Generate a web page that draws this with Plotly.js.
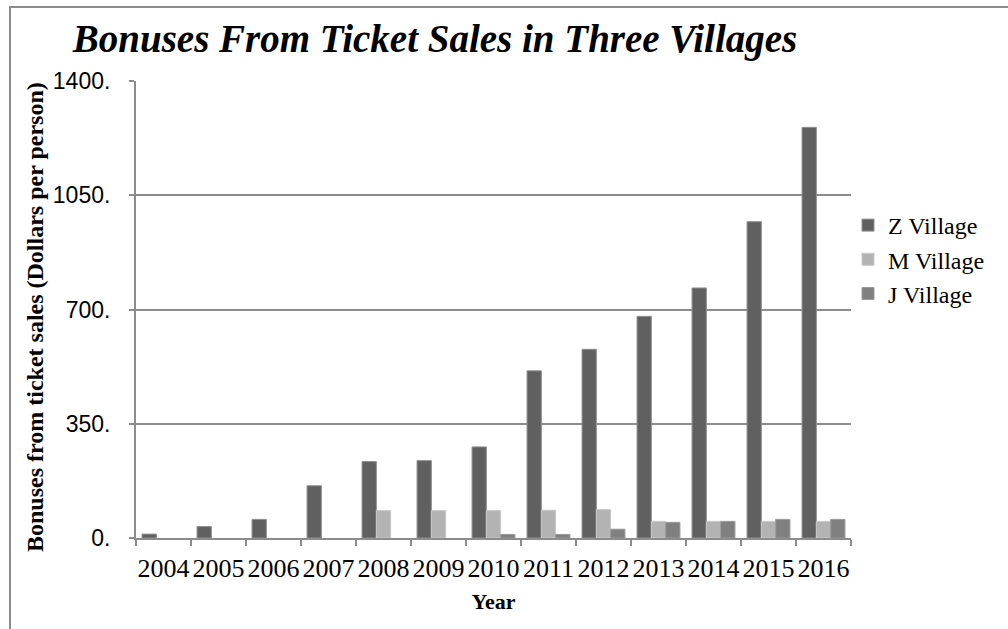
<!DOCTYPE html>
<html>
<head>
<meta charset="utf-8">
<script src="https://cdn.plot.ly/plotly-3.0.1.min.js"></script>
<style>
html,body{margin:0;padding:0;background:#fff;}
#chart{width:1008px;height:629px;}
</style>
</head>
<body>
<div id="chart"></div>
<script>
const years = ['2004','2005','2006','2007','2008','2009','2010','2011','2012','2013','2014','2015','2016'];
const zVillage = [12, 35, 57, 160, 234, 237, 279, 512, 578, 679, 766, 969, 1258];
const mVillage = [null, null, null, null, 84, 84, 84, 85, 87, 51, 51, 51, 51];
const jVillage = [null, null, null, null, null, null, 11, 11, 27, 48, 51, 57, 57];
const yTickVals = [0, 350, 700, 1050, 1400];
const yTickText = ['0.', '350.', '700.', '1050.', '1400.'];

const serif = 'Liberation Serif';
const grey = '#8c8c8c';

const traces = [
  {type:'bar', name:'Z Village', x:years, y:zVillage,
   marker:{color:'#606060', line:{color:'#8f8f8f', width:1}}},
  {type:'bar', name:'M Village', x:years, y:mVillage,
   marker:{color:'#b3b3b3', line:{color:'#c9c9c9', width:1}}},
  {type:'bar', name:'J Village', x:years, y:jVillage,
   marker:{color:'#808080', line:{color:'#9a9a9a', width:1}}}
];

const L = 136, R = 851, T = 81, B = 538, W = 1008, H = 629;
const pw = R - L, ph = B - T;

const layout = {
  width: W, height: H,
  margin: {l: L, r: W - R, t: T, b: H - B, pad: 0},
  paper_bgcolor: '#fff', plot_bgcolor: '#fff',
  barmode: 'group', bargap: 0.22, bargroupgap: 0,
  showlegend: true,
  title: {text: '<b><i>Bonuses From Ticket Sales in Three Villages</i></b>',
          font: {family: serif, size: 39, color: '#000'},
          xref: 'container', yref: 'container', x: 435 / W, xanchor: 'center',
          y: 1 - 38 / H, yanchor: 'middle'},
  legend: {x: (848 - L) / pw, y: (B - 203) / ph, xanchor: 'left', yanchor: 'top',
           font: {family: serif, size: 24, color: '#000'}, tracegroupgap: 0,
           bgcolor: 'rgba(0,0,0,0)'},
  xaxis: {type: 'category', showline: true, linecolor: grey, linewidth: 2,
          ticks: 'outside', tickson: 'boundaries', ticklen: 6, tickcolor: grey, tickwidth: 2,
          tickangle: 0, ticklabelstandoff: 6,
          tickfont: {family: serif, size: 26, color: '#000'},
          showgrid: false, zeroline: false, fixedrange: true,
          title: {text: '<b>Year</b>', font: {family: serif, size: 22, color: '#000'}, standoff: 11}},
  yaxis: {range: [0, 1400], tickvals: yTickVals, ticktext: yTickText,
          showline: true, linecolor: grey, linewidth: 2,
          ticks: 'outside', ticklen: 5, tickcolor: grey, tickwidth: 2,
          tickfont: {family: 'Liberation Sans', size: 23, color: '#000'},
          ticklabelstandoff: 14,
          showgrid: true, gridcolor: grey, gridwidth: 2, zeroline: false},
  annotations: [{text: '<b>Bonuses from ticket sales (Dollars per person)</b>',
                 xref: 'paper', yref: 'paper', x: (35 - L) / pw, y: (B - 317) / ph,
                 xanchor: 'center', yanchor: 'middle', textangle: -90, showarrow: false,
                 font: {family: serif, size: 24, color: '#000'}}],
  shapes: [{type: 'path', xref: 'paper', yref: 'paper', layer: 'above',
            path: 'M ' + ((10 - L) / pw) + ' ' + ((B - 640) / ph) +
                  ' L ' + ((10 - L) / pw) + ' ' + ((B - 7) / ph) +
                  ' L ' + ((1020 - L) / pw) + ' ' + ((B - 7) / ph),
            line: {color: grey, width: 2}}]
};

Plotly.newPlot('chart', traces, layout, {displayModeBar: false, staticPlot: true});
</script>
</body>
</html>
